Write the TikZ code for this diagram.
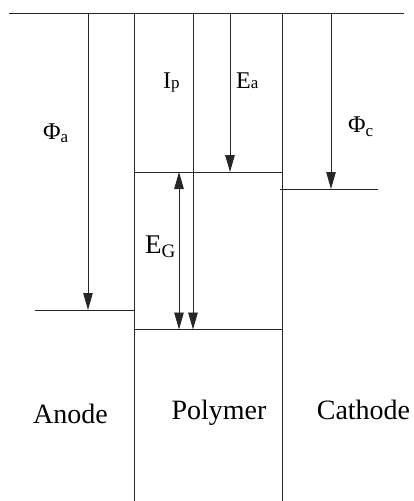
\documentclass[tikz,border=0pt]{standalone}
\usepackage{fontspec}
\setmainfont{Liberation Serif}
\usetikzlibrary{arrows.meta}
\begin{document}
\begin{tikzpicture}[x=1pt,y=-1pt,
  ln/.style={line width=0.9pt,draw=black!85},
  arr/.style={ln,-{Triangle[length=17pt,width=9.5pt]}},
  darr/.style={ln,{Triangle[length=17pt,width=9.5pt]}-{Triangle[length=17pt,width=9.5pt]}},
  lbl/.style={inner sep=0pt,anchor=base west,font=\fontsize{24}{28}\selectfont},
  big/.style={inner sep=0pt,anchor=base,font=\fontsize{28}{32}\selectfont}]
\useasboundingbox (0,0) rectangle (414,501);
% coordinates
\coordinate (topL) at (9,13.5);
\coordinate (topR) at (404,13.5);
\coordinate (aT) at (88,13.5);
\coordinate (aB) at (88,310);
\coordinate (aLL) at (35,310);
\coordinate (aLR) at (134,310);
\coordinate (pLT) at (134,13.5);
\coordinate (pLB) at (134,501);
\coordinate (pRT) at (282,13.5);
\coordinate (pRB) at (282,501);
\coordinate (luL) at (134,172);
\coordinate (luR) at (282,172);
\coordinate (hoL) at (134,329.5);
\coordinate (hoR) at (282,329.5);
\coordinate (ipT) at (193,13.5);
\coordinate (ipB) at (193,329.5);
\coordinate (eaT) at (230,13.5);
\coordinate (eaB) at (230,172);
\coordinate (egT) at (179,172);
\coordinate (egB) at (179,329.5);
\coordinate (cT) at (331,13.5);
\coordinate (cB) at (331,189);
\coordinate (cLL) at (280,189);
\coordinate (cLR) at (378,189);
% lines
\draw[ln] (topL) -- (topR);
\draw[ln] (pLT) -- (pLB);
\draw[ln] (pRT) -- (pRB);
\draw[ln] (luL) -- (luR);
\draw[ln] (hoL) -- (hoR);
\draw[ln] (aLL) -- (aLR);
\draw[ln] (cLL) -- (cLR);
% arrows
\draw[arr] (aT) -- (aB);
\draw[arr] (ipT) -- (ipB);
\draw[arr] (eaT) -- (eaB);
\draw[arr] (cT) -- (cB);
\draw[darr] (egT) -- (egB);
% labels
\node[lbl] (phia) at (43,139) {Φ\raisebox{-3pt}{\fontsize{17}{17}\selectfont a}};
\node[lbl] (ip) at (163,88) {I\fontsize{17}{17}\selectfont p};
\node[lbl] (ea) at (236,88) {E\fontsize{17}{17}\selectfont a};
\node[lbl] (phic) at (348,132) {Φ\raisebox{-4pt}{\fontsize{17}{17}\selectfont c}};
\node[lbl,font=\fontsize{27}{30}\selectfont] (eg) at (145,253) {E\raisebox{-4pt}{\fontsize{19}{19}\selectfont G}};
\node[big] (anode) at (70.5,423) {Anode};
\node[big] (poly) at (219,419) {Polymer};
\node[big] (cath) at (363.5,419) {Cathode};
\end{tikzpicture}
\end{document}
